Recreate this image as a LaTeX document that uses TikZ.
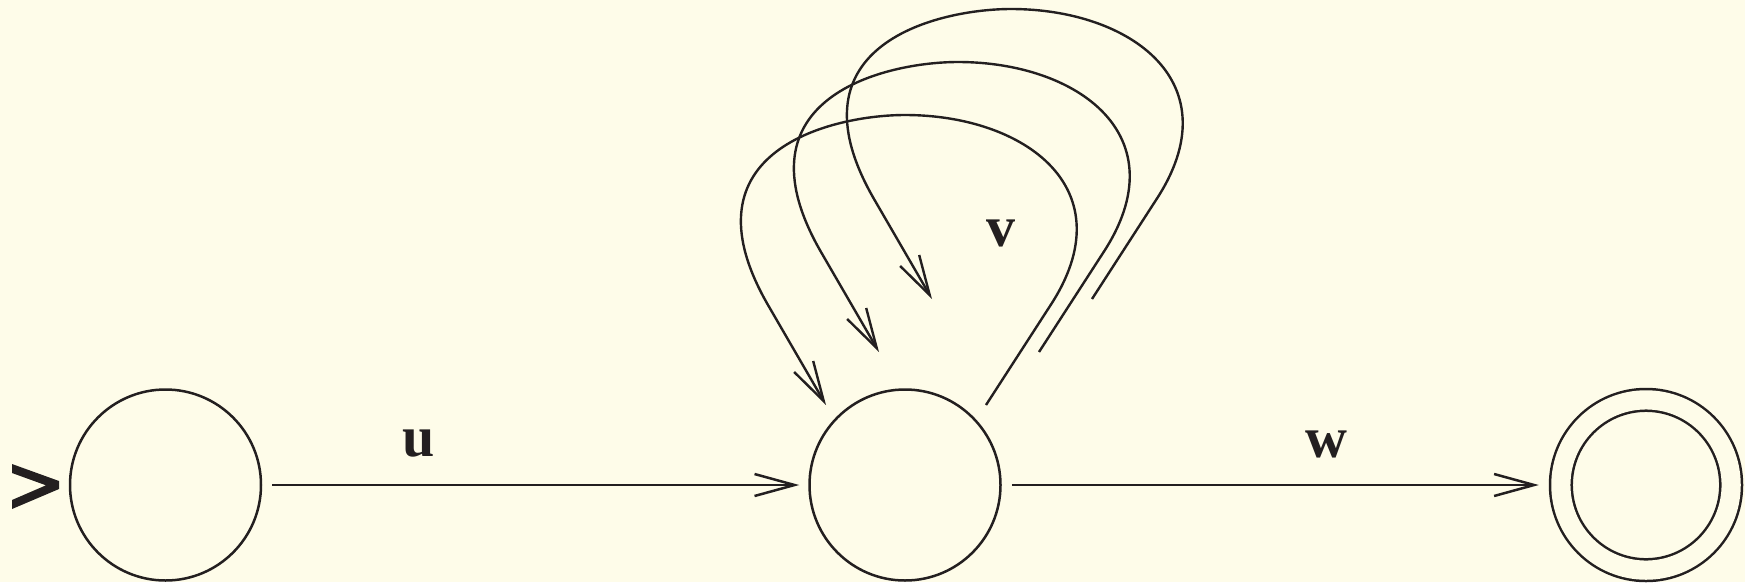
\documentclass[tikz,border=0pt]{standalone}
\usepackage{fontspec}
\setmainfont{Liberation Serif}
\usetikzlibrary{arrows.meta}
\definecolor{bg}{RGB}{254,252,233}
\definecolor{ink}{RGB}{35,31,32}
\tikzset{
  state/.style={circle, draw=ink, line width=2.5pt, inner sep=0pt, minimum size=191pt},
  acc/.style={circle, draw=ink, line width=2.5pt, inner sep=0pt, minimum size=170.3pt, double=bg, double distance=19.2pt},
  arr/.style={draw=ink, line width=2.5pt, -{Straight Barb[length=40pt, width=22pt, line width=2.5pt]}},
  loopline/.style={draw=ink, line width=2.4pt, line join=round, -{Straight Barb[length=40pt, width=22pt, line width=2.4pt]}},
  lab/.style={inner sep=0pt, text=ink, font=\fontsize{58}{60}\selectfont\bfseries}
}
\begin{document}
\begin{tikzpicture}[x=1pt, y=-1pt]
\fill[bg] (0,0) rectangle (1745,582);
\useasboundingbox (0,0) rectangle (1745,582);
% start marker
\fill[ink] (12,464) -- (59,481) -- (59,489) -- (12,509) -- (12,500) -- (46,485.3) -- (12,473) -- cycle;
% states
\node[state] (q0) at (165.5,485) {};
\node[state] (q1) at (905,485) {};
\node[acc] (q2) at (1646,485) {};
% transitions
\draw[arr, shorten <=10pt, shorten >=9pt] (q0) -- (q1);
\draw[arr, shorten <=10pt, shorten >=20.8pt] (q1) -- (q2);
% loops
\coordinate (l1s) at (986,405);
\coordinate (l1e) at (826,405);
\coordinate (l2s) at (1039,352);
\coordinate (l2e) at (879,352);
\coordinate (l3s) at (1092,299);
\coordinate (l3e) at (932,299);
\draw[loopline] (l1s) -- ++(64,-99) .. controls +(77,-117) and +(120,0) .. ++(-145,-191) .. controls +(-70,0) and +(-90,-156) .. ++(-137,190) -- (l1e);
\draw[loopline] (l2s) -- ++(64,-99) .. controls +(77,-117) and +(120,0) .. ++(-145,-191) .. controls +(-70,0) and +(-90,-156) .. ++(-137,190) -- (l2e);
\draw[loopline] (l3s) -- ++(64,-99) .. controls +(77,-117) and +(120,0) .. ++(-145,-191) .. controls +(-70,0) and +(-90,-156) .. ++(-137,190) -- (l3e);
% labels
\node[lab] (lu) at (419,444) {u};
\node[lab] (lv) at (1001,233) {v};
\node[lab] (lw) at (1326,444.5) {w};
\end{tikzpicture}
\end{document}
